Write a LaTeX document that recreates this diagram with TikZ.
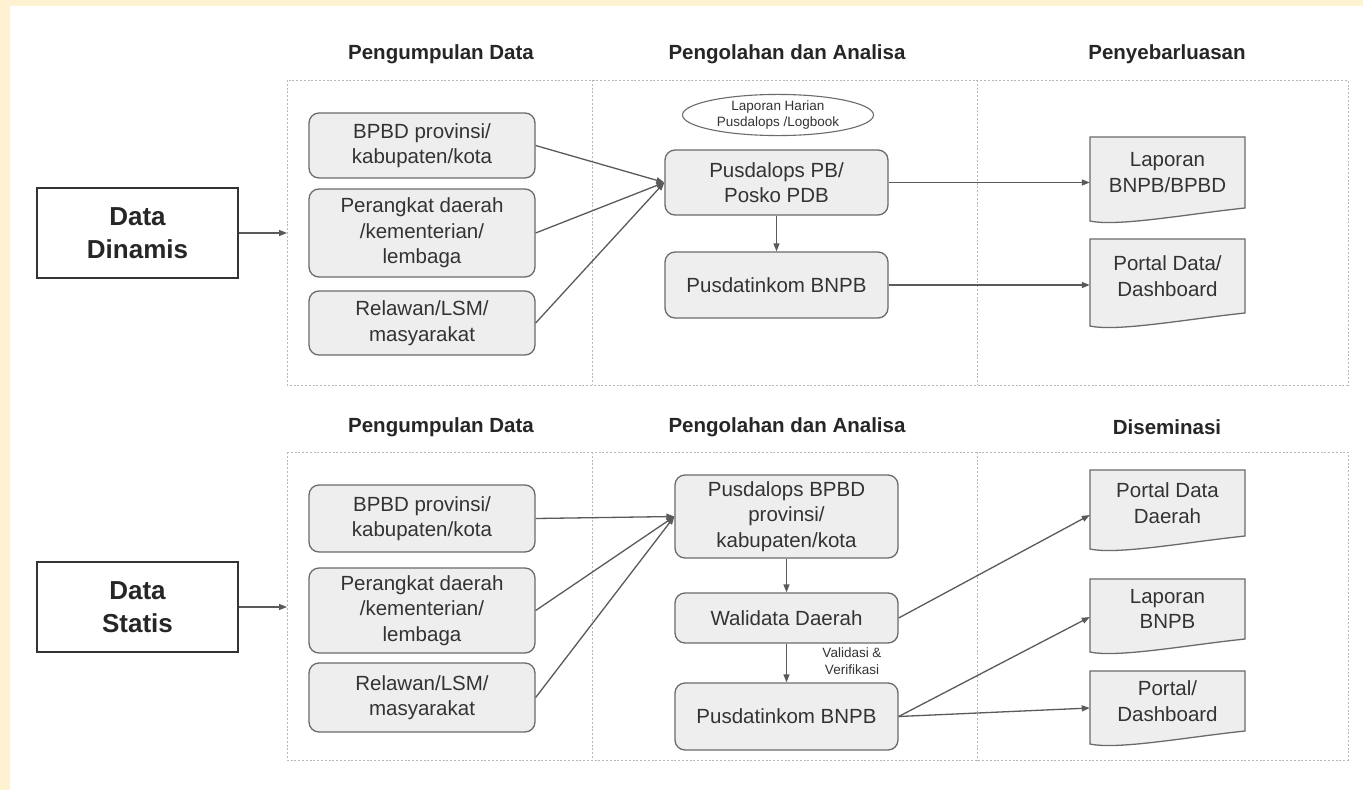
\documentclass[tikz,border=0pt]{standalone}
\usepackage{fontspec}
\setmainfont{Liberation Sans}
\usetikzlibrary{arrows.meta,shapes.geometric,calc}
\definecolor{cream}{HTML}{FFF2D3}
\definecolor{boxfill}{HTML}{EEEEEE}
\definecolor{boxline}{HTML}{6B6B6B}
\definecolor{txt}{HTML}{333333}
\definecolor{dashc}{HTML}{B8B8B8}
\definecolor{arrc}{HTML}{5A5A5A}
\newcommand\docnode[5]{%
  \filldraw[docline] ({#2-77.5},{#3-#4/2}) -- ({#2+77.5},{#3-#4/2}) -- ({#2+77.5},{#3+#4/2})
    .. controls ({#2+20},{#3+#4/2+6}) and ({#2-50},{#3+#4/2+19}) .. ({#2-77.5},{#3+#4/2+13}) -- cycle;
  \node[docn, minimum height=#4] (#1) at (#2,#3) {#5};}
\begin{document}
\begin{tikzpicture}[x=1pt,y=-1pt,
  gbox/.style={draw=boxline, line width=1.3pt, fill=boxfill, rounded corners=10pt, align=center,
    text=txt, font=\fontsize{20.5}{25.5}\selectfont, inner sep=0pt, minimum width=223},
  docn/.style={align=center, text=txt, font=\fontsize{20.5}{25.5}\selectfont, inner sep=0pt, minimum width=155},
  docline/.style={draw=boxline, line width=1.3pt, fill=boxfill},
  bigbox/.style={draw=txt, line width=2pt, fill=white, align=center, text=black!85,
    font=\fontsize{26}{33}\selectfont\bfseries, minimum width=201, minimum height=90, inner sep=0pt},
  head/.style={text=black!85, font=\fontsize{20.5}{24}\selectfont\bfseries},
  dashbox/.style={draw=dashc, line width=0.8pt, dash pattern=on 2pt off 1.8pt},
  conn/.style={draw=arrc, line width=1.3pt, -{Triangle[length=8pt,width=6pt]}},
  small/.style={align=center, text=txt, font=\fontsize{13.5}{16.5}\selectfont, inner sep=0pt}
]
\useasboundingbox (0,0) rectangle (1363,790);
\fill[cream] (0,0) rectangle (1363,790);
\fill[white] (10,6) rectangle (1363,790);

% ---------- top section ----------
\node[head] (h1) at (441,54) {Pengumpulan Data};
\node[head] (h2) at (787,54) {Pengolahan dan Analisa};
\node[head] (h3) at (1167,54) {Penyebarluasan};
\draw[dashbox] (287,80) rectangle (1348,385);
\draw[dashbox] (592,80) -- (592,385);
\draw[dashbox] (977,80) -- (977,385);

\node[bigbox] (dd) at (137.5,233) {Data\\Dinamis};
\coordinate (tin) at (287,233);

\node[gbox, minimum width=226, minimum height=65] (tb1) at (422,145.5) {BPBD provinsi/\\kabupaten/kota};
\node[gbox, minimum width=226, minimum height=88] (tb2) at (422,233) {Perangkat daerah\\/kementerian/\\lembaga};
\node[gbox, minimum width=226, minimum height=64] (tb3) at (422,323) {Relawan/LSM/\\masyarakat};

\node[ellipse, draw=boxline, line width=1.1pt, fill=white, minimum width=191, minimum height=37, small] (ell) at (778,115) {Laporan Harian\\Pusdalops /Logbook};
\node[gbox, minimum height=65] (tp) at (776.5,182.5) {Pusdalops PB/\\Posko PDB};
\node[gbox, minimum height=66] (tq) at (776.5,285) {Pusdatinkom BNPB};

\docnode{td1}{1167.5}{172.5}{71}{Laporan\\BNPB/BPBD}
\docnode{td2}{1167.5}{276}{74}{Portal Data/\\Dashboard}

\draw[conn] (dd.east) -- (tin);
\draw[conn] (tb1.east) -- (tp.west);
\draw[conn] (tb2.east) -- (tp.west);
\draw[conn] (tb3.east) -- (tp.west);
\draw[conn] (tp.south) -- (tq.north);
\draw[conn] (tp.east) -- (tp.east -| td1.west);
\draw[conn] (tq.east) -- (tq.east -| td2.west);

% ---------- bottom section ----------
\node[head] (g1) at (441,427) {Pengumpulan Data};
\node[head] (g2) at (787,427) {Pengolahan dan Analisa};
\node[head] (g3) at (1167,427) {Diseminasi};
\draw[dashbox] (287,452) rectangle (1348,760);
\draw[dashbox] (592,452) -- (592,760);
\draw[dashbox] (977,452) -- (977,760);

\node[bigbox] (ds) at (137.5,607) {Data\\Statis};
\coordinate (bin) at (287,607);

\node[gbox, minimum width=226, minimum height=67] (bb1) at (422,518.5) {BPBD provinsi/\\kabupaten/kota};
\node[gbox, minimum width=226, minimum height=85] (bb2) at (422,610.5) {Perangkat daerah\\/kementerian/\\lembaga};
\node[gbox, minimum width=226, minimum height=69] (bb3) at (422,697.5) {Relawan/LSM/\\masyarakat};

\node[gbox, minimum height=83] (bp) at (786.5,516.5) {Pusdalops BPBD\\provinsi/\\kabupaten/kota};
\node[gbox, minimum height=50] (bw) at (786.5,618) {Walidata Daerah};
\node[gbox, minimum height=67] (bq) at (786.5,716.5) {Pusdatinkom BNPB};
\node[small] (val) at (852,661) {Validasi \&\\Verifikasi};

\docnode{bd1}{1167.5}{503}{66}{Portal Data\\Daerah}
\docnode{bd2}{1167.5}{609}{60}{Laporan\\BNPB}
\docnode{bd3}{1167.5}{701}{60}{Portal/\\Dashboard}

\draw[conn] (ds.east) -- (bin);
\draw[conn] (bb1.east) -- (bp.west);
\draw[conn] (bb2.east) -- (bp.west);
\draw[conn] (bb3.east) -- (bp.west);
\draw[conn] (bp.south) -- (bw.north);
\draw[conn] (bw.south) -- (bq.north);
\draw[conn] (bw.east) -- ([yshift=-12pt]bd1.west);
\draw[conn] (bq.east) -- ([yshift=-8pt]bd2.west);
\draw[conn] (bq.east) -- ([yshift=-7pt]bd3.west);
\end{tikzpicture}
\end{document}
